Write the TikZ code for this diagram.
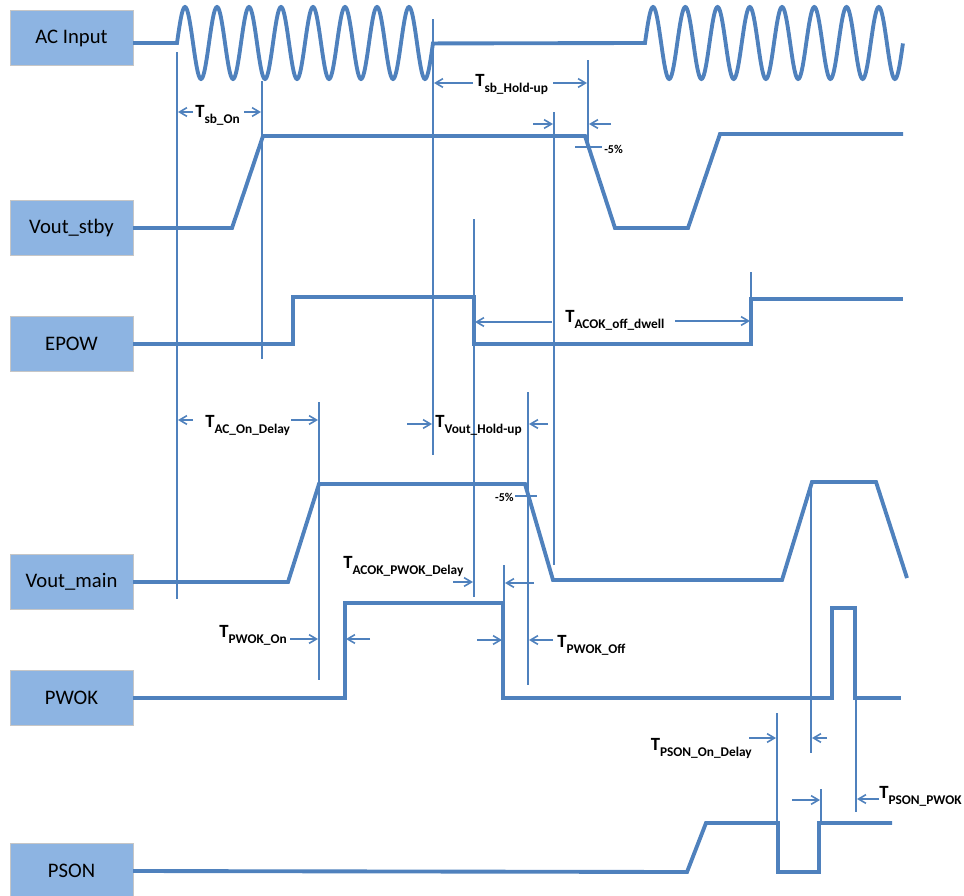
\documentclass[tikz,border=0pt]{standalone}
\usepackage{fontspec}
\setmainfont{Carlito}
\usetikzlibrary{arrows.meta, positioning}

\definecolor{wave}{RGB}{79,129,189}
\definecolor{boxfill}{RGB}{141,180,226}

\newcommand{\tsub}[1]{T\raisebox{-4.5pt}{\fontsize{10}{12}\selectfont #1}}

\begin{document}
\begin{tikzpicture}[x=0.75pt, y=-0.75pt, >={Straight Barb[length=5.5pt,width=6.5pt]},
		sigbox/.style={draw=gray!45, fill=boxfill, minimum width=92pt, minimum height=41pt, font=\fontsize{15.5}{18}\selectfont},
		sig/.style={wave, line width=2.9pt},
		guideline/.style={wave, line width=1.2pt},
		dimarrow/.style={wave, line width=1.2pt, ->},
		tlabel/.style={inner sep=0pt, anchor=base west, font=\fontsize{14}{16}\bfseries},
		pct/.style={inner sep=0pt, font=\fontsize{9}{10}\bfseries}]
		\useasboundingbox (0,0) rectangle (964,896);

		% signal names
		\node[sigbox] (ac) at (71.5,38) {AC Input};
		\node[sigbox] (stby) at (71.5,228) {Vout\_stby};
		\node[sigbox] (epow) at (71.5,344) {EPOW};
		\node[sigbox] (vmain) at (71.5,582) {Vout\_main};
		\node[sigbox] (pwok) at (71.5,698) {PWOK};
		\node[sigbox] (pson) at (71.5,871) {PSON};

		% waveforms
		\draw[sig] (ac.east |- 0,43) -- (177,43)
			-- plot[domain=0:8, samples=321] ({177+32*\x}, {43-36*sin(360*\x)})
			-- (645,43)
			-- plot[domain=0:8, samples=321] ({645+32.25*\x}, {43-36*sin(360*\x)});
		\draw[sig] (stby.east) -- (232,228) -- (263,136) -- (585,136) -- (615,228) -- (688,228) -- (720,134) -- (903,134);
		\draw[sig] (epow.east) -- (293,344) -- (293,297) -- (474,297) -- (474,344) -- (751,344) -- (751,299) -- (903,299);
		\draw[sig] (vmain.east) -- (288,582) -- (319,484) -- (525,484) -- (553,580) -- (782,580) -- (812,482) -- (876,482) -- (907,578);
		\draw[sig] (pwok.east) -- (345,698) -- (345,603) -- (503,603) -- (503,698) -- (832,698) -- (832,608) -- (855,608) -- (855,698) -- (901,698);
		\draw[sig] (pson.east) -- (687,872) -- (706,823) -- (778,823) -- (778,872) -- (819,872) -- (819,823) -- (892,823);

		% guide lines
		\draw[guideline] (177,52) -- (177,599);
		\draw[guideline] (262,81) -- (262,359);
		\draw[guideline] (433,19) -- (433,455);
		\draw[guideline] (588,60) -- (588,143);
		\draw[guideline] (554,112) -- (554,565);
		\draw[guideline] (474,219) -- (474,597);
		\draw[guideline] (751,272) -- (751,299);
		\draw[guideline] (319,402) -- (319,680);
		\draw[guideline] (528,392) -- (528,685);
		\draw[guideline] (504,565) -- (504,603);
		\draw[guideline] (811,482) -- (811,753);
		\draw[guideline] (777,713) -- (777,823);
		\draw[guideline] (821,789) -- (821,823);
		\draw[guideline] (856,698) -- (856,812);

		% -5% levels
		\draw[guideline] (575,147) -- (602,147);
		\node[pct, anchor=west] (stbypct) at (604,149) {-5\%};
		\draw[guideline] (515,496) -- (537,496);
		\node[pct, anchor=east] (mainpct) at (514,497) {-5\%};

		% timing labels
		\node[tlabel] (tsbon) at (195,117) {\tsub{sb\_On}};
		\draw[dimarrow] (193,112) -- (178,112);
		\draw[dimarrow] (244,112) -- (261,112);

		\node[tlabel] (tsbhold) at (475,86) {\tsub{sb\_Hold-up}};
		\draw[dimarrow] (473,83) -- (434,83);
		\draw[dimarrow] (553,83) -- (587,83);
		\draw[dimarrow] (533,124) -- (553,124);
		\draw[dimarrow] (611,124) -- (589,124);

		\node[tlabel] (tdwell) at (565,322) {\tsub{ACOK\_off\_dwell}};
		\draw[dimarrow] (552,322) -- (475,322);
		\draw[dimarrow] (675,321) -- (750,321);

		\node[tlabel] (tacon) at (205,427) {\tsub{AC\_On\_Delay}};
		\draw[dimarrow] (193,420) -- (178,420);
		\draw[dimarrow] (291,420) -- (318,420);

		\node[tlabel] (tvhold) at (435,427) {\tsub{Vout\_Hold-up}};
		\draw[dimarrow] (407,424) -- (432,424);
		\draw[dimarrow] (548,424) -- (529,424);

		\node[tlabel] (tacpw) at (343,568) {\tsub{ACOK\_PWOK\_Delay}};
		\draw[dimarrow] (453,582) -- (473,582);
		\draw[dimarrow] (534,583) -- (505,583);

		\node[tlabel, anchor=base east] (tpwon) at (287,637) {\tsub{PWOK\_On}};
		\draw[dimarrow] (290,639) -- (318,639);
		\draw[dimarrow] (370,639) -- (346,639);

		\node[tlabel] (tpwoff) at (557,647) {\tsub{PWOK\_Off}};
		\draw[dimarrow] (477,640) -- (502,640);
		\draw[dimarrow] (553,640) -- (529,640);

		\node[tlabel, anchor=base east] (tpsdel) at (752,750) {\tsub{PSON\_On\_Delay}};
		\draw[dimarrow] (749,738) -- (776,738);
		\draw[dimarrow] (827,738) -- (812,738);

		\node[tlabel] (tpspw) at (879,798) {\tsub{PSON\_PWOK}};
		\draw[dimarrow] (792,800) -- (820,800);
		\draw[dimarrow] (879,799) -- (857,799);
	\end{tikzpicture}
\end{document}
